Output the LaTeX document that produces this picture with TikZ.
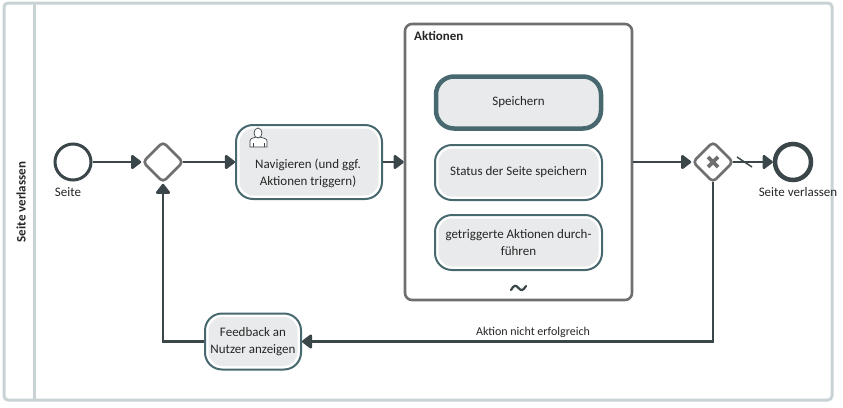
\documentclass[tikz,border=0pt]{standalone}
\usepackage{fontspec}
\setmainfont{Carlito}
\usetikzlibrary{arrows.meta,shapes.geometric}
\definecolor{lanegray}{HTML}{C9D3D6}
\definecolor{tealb}{HTML}{47686F}
\definecolor{darkl}{HTML}{3A4649}
\definecolor{gategray}{HTML}{6F6F6F}
\definecolor{taskfill}{HTML}{E8EAEB}
\tikzset{
  x=1pt,y=-1pt,
  every node/.style={font=\fontsize{13}{17}\selectfont,text=black!85},
  flow/.style={draw=darkl,line width=2.6pt,-{Triangle[length=11pt,width=16pt,round]}},
  fromgate/.style={shorten <=-2pt},
  event/.style={circle,draw=darkl,fill=white,inner sep=0pt,minimum size=36pt},
  gate/.style={diamond,aspect=1,draw=gategray,fill=white,line width=2.6pt,rounded corners=4pt,inner sep=0pt,minimum size=41pt},
  task/.style={rectangle,draw=tealb,line width=2pt,fill=white,rounded corners=17pt,align=center,inner sep=0pt,
    path picture={\fill[taskfill,rounded corners=14pt]
      ([shift={(3.5pt,3.5pt)}]path picture bounding box.south west) rectangle
      ([shift={(-3.5pt,-3.5pt)}]path picture bounding box.north east);}},
  calltask/.style={rectangle,draw=tealb,line width=4.5pt,fill=taskfill,rounded corners=18pt,align=center,inner sep=0pt},
  lbl/.style={font=\fontsize{13}{15}\selectfont,inner sep=0pt},
  titl/.style={font=\bfseries\fontsize{13}{15}\selectfont,inner sep=0pt},
}
\begin{document}
\begin{tikzpicture}
\useasboundingbox (0,0) rectangle (843,407);
\fill[white] (0,0) rectangle (843,407);
\node[rectangle,draw=lanegray,line width=3pt,rounded corners=4pt,minimum width=828pt,minimum height=397pt,inner sep=0pt] (pool) at (418,201.5) {};
\coordinate (lanetop) at (34,3);
\coordinate (lanebot) at (34,400);
\draw[lanegray,line width=3pt] (lanetop) -- (lanebot);
\node[titl,rotate=90] (lanetitle) at (21,202) {Seite verlassen};

\node[event,line width=3pt] (start) at (73,162) {};
\node[lbl] (startl) at (68,192) {Seite};
\node[gate] (g1) at (163,162) {};
\node[task,minimum width=146pt,minimum height=74pt] (nav) at (309,162) {};
\node[align=center,inner sep=0pt] (navt) at (308,173) {Navigieren (und ggf.\\Aktionen triggern)};

\node[rectangle,draw=gategray,fill=white,line width=2.6pt,rounded corners=7pt,minimum width=227pt,minimum height=276pt,inner sep=0pt] (sub) at (518.5,162) {};
\node[titl,anchor=west] (subt) at (414,36) {Aktionen};
\node[calltask,minimum width=165pt,minimum height=52pt] (sp) at (518.5,102.5) {Speichern};
\node[task,minimum width=167pt,minimum height=55pt] (st) at (518.5,172.5) {Status der Seite speichern};
\node[task,minimum width=167pt,minimum height=55pt] (tr) at (518.5,242.5) {getriggerte Aktionen durch-\\führen};
\draw[darkl,line width=2.2pt,line cap=round] (511,290) .. controls (514,284.5) and (516,285) .. (518.5,288) .. controls (521,291) and (523,291) .. (526,286);

\node[gate] (g2) at (713,162) {};
\draw[gategray,line width=3.6pt] ([shift={(-5,-5)}]g2.center) -- ([shift={(5,5)}]g2.center);
\draw[gategray,line width=3.6pt] ([shift={(-5,5)}]g2.center) -- ([shift={(5,-5)}]g2.center);
\node[event,line width=4.5pt] (endev) at (793,162) {};
\node[lbl] (endl) at (798,192) {Seite verlassen};
\node[task,minimum width=96pt,minimum height=56pt] (fb) at (253,341.5) {};
\node[align=center,inner sep=0pt] (fbt) at (253,342) {Feedback an\\Nutzer anzeigen};

% user icon
\draw[darkl,line width=.7pt,fill=white] (250,147) -- (250,141) .. controls (250,138) and (254,138) .. (256,137) -- (260,137) .. controls (262,138) and (267,138) .. (267,141) -- (267,147) -- cycle;
\draw[darkl,line width=.7pt,fill=white] (258,133) ellipse (4pt and 5pt);
\draw[darkl,line width=.7pt] (253,143) -- (253,147) (264,143) -- (264,147);

\draw[flow] (start) -- (g1);
\draw[flow,fromgate] (g1) -- (nav);
\draw[flow] (nav) -- (sub);
\draw[flow] (sub) -- (g2);
\draw[flow,fromgate] (g2) -- (endev);
\coordinate (da) at (737,157);
\coordinate (db) at (752,167);
\draw[darkl,line width=1.5pt] (da) -- (db);
\draw[flow,fromgate] (g2) |- (fb);
\draw[flow] (fb) -| (g1);
\node[lbl,font=\fontsize{12}{14}\selectfont] (fail) at (533,332) {Aktion nicht erfolgreich};
\end{tikzpicture}
\end{document}
